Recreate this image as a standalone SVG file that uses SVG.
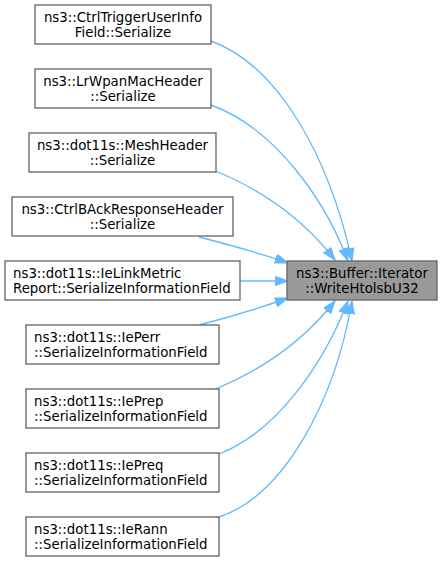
<svg xmlns="http://www.w3.org/2000/svg" width="443" height="563" viewBox="0 0 443 563">
<defs>
<style>
.n rect{fill:#ffffff;stroke:#666666;stroke-width:1.33}
.n.t rect{fill:#999999}
.n text{font-family:"DejaVu Sans",sans-serif;font-size:13.33px;fill:#000000}
.c{text-anchor:middle}
.e path{fill:none;stroke:#63b8ff;stroke-width:1.33;marker-end:url(#ah)}
</style>
<marker id="ah" markerUnits="userSpaceOnUse" markerWidth="14" markerHeight="10" refX="13" refY="4.7" orient="auto">
<path d="M0,0 L13,4.7 L0,9.4 z" fill="#63b8ff" stroke="#63b8ff" stroke-width="1"/>
</marker>
</defs>
<rect width="443" height="563" fill="#ffffff"/>
<g id="edges" class="e">
<path d="M211,41 C280,66 330,160 352,261"/>
<path d="M211,105 C275,128 325,200 348,261"/>
<path d="M213,170 C258,188 300,215 335,260"/>
<path d="M199,237 C230,245 260,253 288,263"/>
<path d="M240,281 L288,281"/>
<path d="M199,325 C230,317 260,308 288,298"/>
<path d="M213,390 C258,372 300,345 335,301"/>
<path d="M219,454 C280,430 325,360 348,301"/>
<path d="M219,517 C285,495 335,400 352,301"/>
</g>
<g id="node1" class="n"><rect x="35" y="5" width="176" height="39"/><text class="c" x="123" y="22">ns3::CtrlTriggerUserInfo</text><text class="c" x="123" y="36.5">Field::Serialize</text></g>
<g id="node2" class="n"><rect x="35" y="69" width="176" height="39"/><text class="c" x="123" y="86">ns3::LrWpanMacHeader</text><text class="c" x="123" y="100.5">::Serialize</text></g>
<g id="node3" class="n"><rect x="29" y="133" width="187" height="39"/><text class="c" x="122.5" y="150">ns3::dot11s::MeshHeader</text><text class="c" x="122.5" y="164.5">::Serialize</text></g>
<g id="node4" class="n"><rect x="12" y="197" width="221" height="39"/><text class="c" x="122.5" y="214">ns3::CtrlBAckResponseHeader</text><text class="c" x="122.5" y="228.5">::Serialize</text></g>
<g id="node5" class="n"><rect x="5" y="261" width="235" height="39"/><text x="13" y="278">ns3::dot11s::IeLinkMetric</text><text x="13" y="292.5">Report::SerializeInformationField</text></g>
<g id="node6" class="n"><rect x="26" y="325" width="193" height="39"/><text x="34" y="342">ns3::dot11s::IePerr</text><text x="34" y="356.5">::SerializeInformationField</text></g>
<g id="node7" class="n"><rect x="26" y="389" width="193" height="39"/><text x="34" y="406">ns3::dot11s::IePrep</text><text x="34" y="420.5">::SerializeInformationField</text></g>
<g id="node8" class="n"><rect x="26" y="453" width="193" height="39"/><text x="34" y="470">ns3::dot11s::IePreq</text><text x="34" y="484.5">::SerializeInformationField</text></g>
<g id="node9" class="n"><rect x="26" y="517" width="193" height="39"/><text x="34" y="534">ns3::dot11s::IeRann</text><text x="34" y="548.5">::SerializeInformationField</text></g>
<g id="target" class="n t"><rect x="287" y="261" width="150" height="39"/><text class="c" x="362" y="278">ns3::Buffer::Iterator</text><text class="c" x="362" y="292.5">::WriteHtolsbU32</text></g>
</svg>
